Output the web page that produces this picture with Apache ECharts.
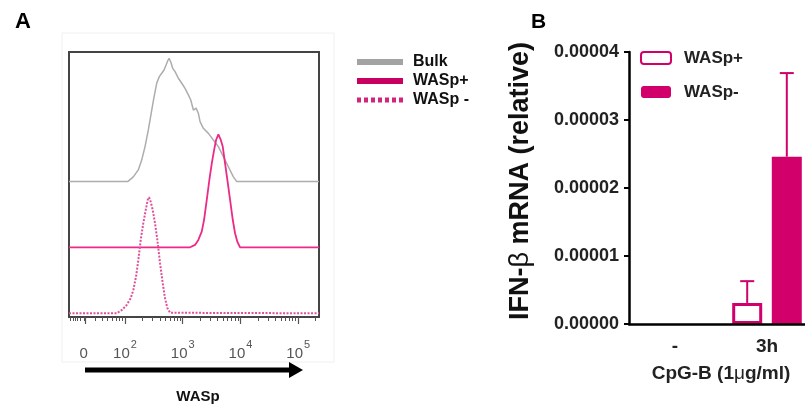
<!DOCTYPE html>
<html><head><meta charset="utf-8">
<script src="https://cdn.jsdelivr.net/npm/echarts@6/dist/echarts.min.js"></script>
<style>html,body{margin:0;padding:0;background:#fff}#c{width:805px;height:407px}</style>
</head><body><div id="c"></div>
<script>
// ---------- Panel A: flow histograms (x = decade position, y = relative height incl. stacking offset)
const bulkDecade = [1.03, 2.047, 2.144, 2.230, 2.289, 2.347, 2.404, 2.463, 2.503, 2.549, 2.594, 2.636, 2.676, 2.711, 2.740, 2.763, 2.792, 2.827, 2.867, 2.924, 2.983, 3.040, 3.097, 3.139, 3.184, 3.231, 3.270, 3.300, 3.357, 3.444, 3.530, 3.617, 3.704, 3.790, 3.877, 3.936, 5.36];
const bulkHeight = [51.1, 51.1, 52.9, 55.5, 59.2, 64.3, 70.6, 78.1, 83.1, 88.2, 90.7, 92.0, 93.2, 95.1, 96.7, 97.6, 96.3, 93.8, 92.6, 90.1, 88.2, 86.3, 83.8, 81.9, 78.1, 78.8, 76.9, 73.7, 71.2, 69.3, 66.8, 64.3, 60.5, 56.7, 52.9, 51.1, 51.1];
const posDecade = [1.03, 3.127, 3.213, 3.270, 3.329, 3.369, 3.416, 3.461, 3.503, 3.543, 3.577, 3.617, 3.659, 3.693, 3.733, 3.773, 3.820, 3.867, 3.906, 3.946, 3.993, 5.36];
const posHeight = [26.3, 26.3, 27.2, 29.1, 32.2, 36.6, 44.2, 51.7, 58.0, 63.0, 66.8, 68.9, 66.8, 64.3, 58.0, 51.7, 44.2, 36.6, 31.6, 28.4, 26.3, 26.3];
const negDecade = [1.03, 1.856, 1.943, 2.029, 2.099, 2.144, 2.191, 2.231, 2.272, 2.317, 2.359, 2.393, 2.416, 2.445, 2.480, 2.520, 2.560, 2.607, 2.653, 2.693, 2.733, 2.780, 2.809, 5.36];
const negHeight = [1.4, 1.4, 2.6, 4.5, 7.1, 10.2, 15.2, 21.5, 29.1, 35.4, 40.4, 44.2, 45.2, 43.5, 40.4, 35.4, 29.1, 20.3, 12.8, 7.1, 3.4, 1.6, 1.4, 1.4];
const seriesNamesA = ['Bulk', 'WASp+', 'WASp -'];
const tickLabelPosA = [1.32, 2, 3, 4, 5];
const tickLabelsA = ['0', '10^2', '10^3', '10^4', '10^5'];
const minorDecadesA = [1, 2, 3, 4, 5];
const minorMultA = [2, 3, 4, 5, 6, 7, 8, 9];
const linearRegionTicksA = [1.06, 1.1, 1.14, 1.18, 1.22];

// ---------- Panel B: IFN-beta mRNA
const categoriesB = ['-', '3h'];
const seriesNamesB = ['WASp+', 'WASp-'];
const waspPosMean = [0, 0.0000031];
const waspPosErr  = [0, 0.0000032];
const waspNegMean = [0, 0.0000246];
const waspNegErr  = [0, 0.0000123];

const FONT = 'Arial, "Liberation Sans", sans-serif';
const PINK = '#d1006a';
const BAR_W = 30, BAR_GAP = 0.32;

const minorTicks = linearRegionTicksA.slice();
minorDecadesA.forEach(d => minorMultA.forEach(m => {
  const v = d + Math.log10(m);
  if (v < 5.36) minorTicks.push(v);
}));

function pairs(xs, ys) { return xs.map((x, i) => [x, ys[i]]); }
function fmtA(v) {
  let idx = tickLabelPosA.findIndex(p => Math.abs(p - v) < 1e-6);
  if (idx < 0) return '';
  const t = tickLabelsA[idx];
  if (t.indexOf('^') < 0) return '{b|' + t + '}{s| }';
  const [base, sup] = t.split('^');
  return '{b|' + base + '}{s|' + sup + '}';
}
function errRender(sign) {
  return function (params, api) {
    const idx = api.value(0), v = api.value(1), e = api.value(2);
    if (!e) return null;
    const b = api.coord([idx, v]);
    const t = api.coord([idx, v + e]);
    const x = b[0] + sign * (BAR_W + BAR_W * BAR_GAP) / 2;
    return { type: 'group', children: [
      { type: 'line', shape: { x1: x, y1: b[1], x2: x, y2: t[1] }, style: { stroke: PINK, lineWidth: 2 } },
      { type: 'line', shape: { x1: x - 7, y1: t[1], x2: x + 7, y2: t[1] }, style: { stroke: PINK, lineWidth: 2 } }
    ] };
  };
}
function barData(vals) {
  return vals.map(v => v === 0 ? { value: 0, itemStyle: { borderWidth: 0 } } : v);
}

const chart = echarts.init(document.getElementById('c'), null, { renderer: 'canvas' });
chart.setOption({
  animation: false,
  textStyle: { fontFamily: FONT },
  title: [
    { text: 'A', left: 10, top: 6, textStyle: { fontSize: 22, fontWeight: 'bold', color: '#000', fontFamily: FONT } },
    { text: 'B', left: 526, top: 7, textStyle: { fontSize: 21, fontWeight: 'bold', color: '#000', fontFamily: FONT } }
  ],
  graphic: [
    { type: 'rect', shape: { x: 62, y: 33, width: 272, height: 329 }, style: { fill: 'none', stroke: '#f0f0f0', lineWidth: 1 }, z: -1 },
    { type: 'line', shape: { x1: 85, y1: 370, x2: 292, y2: 370 }, style: { stroke: '#000', lineWidth: 5 } },
    { type: 'polygon', shape: { points: [[289, 362], [303, 370], [289, 378]] }, style: { fill: '#000' } },
    { type: 'text', x: 198, y: 397, style: { text: 'WASp', align: 'center', verticalAlign: 'middle', font: 'bold 15px ' + FONT, fill: '#111' } }
  ],
  legend: [
    {
      orient: 'vertical', left: 349, top: 48, itemWidth: 46, itemHeight: 14, itemGap: 1,
      formatter: n => n.replace(' (A)', ''),
      textStyle: { fontSize: 16, fontWeight: 'bold', color: '#111', lineHeight: 18, padding: [0, 0, 0, 5], fontFamily: FONT },
      data: [
        { name: seriesNamesA[0] + ' (A)', itemStyle: { opacity: 0 }, lineStyle: { width: 6, color: '#a3a3a3' } },
        { name: seriesNamesA[1] + ' (A)', itemStyle: { opacity: 0 }, lineStyle: { width: 6, color: '#c8005f' } },
        { name: seriesNamesA[2] + ' (A)', itemStyle: { opacity: 0 }, lineStyle: { width: 5, color: '#d4247a', type: [4, 3] } }
      ]
    },
    {
      orient: 'vertical', left: 635, top: 43, itemWidth: 30, itemHeight: 12, itemGap: 14,
      textStyle: { fontSize: 17, fontWeight: 'bold', color: '#222', lineHeight: 20, padding: [0, 0, 0, 8], fontFamily: FONT },
      data: seriesNamesB
    }
  ],
  grid: [
    { left: 69, top: 52, width: 250, height: 265, show: true, borderColor: '#444', borderWidth: 2, backgroundColor: 'transparent', outerBoundsMode: 'none' },
    { left: 629, top: 52, width: 184, height: 272, outerBoundsMode: 'none' }
  ],
  xAxis: [
    {
      gridIndex: 0, type: 'value', position: 'bottom', min: 1.03, max: 5.36,
      axisLine: { show: false }, splitLine: { show: false },
      axisTick: { show: true, inside: false, length: 7, customValues: tickLabelPosA, lineStyle: { color: '#555', width: 1.2 } },
      axisLabel: {
        customValues: tickLabelPosA, margin: 22, formatter: fmtA,
        rich: {
          b: { fontSize: 15, color: '#555', fontFamily: FONT },
          s: { fontSize: 11, color: '#555', fontFamily: FONT, padding: [0, 0, 18, 1] }
        }
      }
    },
    {
      gridIndex: 0, type: 'value', position: 'bottom', min: 1.03, max: 5.36,
      axisLine: { show: false }, splitLine: { show: false }, axisLabel: { show: false },
      axisTick: { show: true, inside: false, length: 4, customValues: minorTicks, lineStyle: { color: '#555', width: 1 } }
    },
    {
      gridIndex: 1, type: 'category', data: categoriesB,
      axisLine: { lineStyle: { color: '#000', width: 2.5 } },
      axisTick: { alignWithLabel: true, length: 7, lineStyle: { color: '#000', width: 2 } },
      axisLabel: { fontSize: 19, fontWeight: 'bold', color: '#222', margin: 13, fontFamily: FONT },
      name: 'CpG-B (1{m|μ}g/ml)', nameLocation: 'middle', nameGap: 40,
      nameTextStyle: {
        fontSize: 19, fontWeight: 'bold', color: '#222', fontFamily: FONT,
        rich: { m: { fontSize: 19, fontWeight: 'normal', color: '#222', fontFamily: FONT } }
      },
      z: 5
    }
  ],
  yAxis: [
    { gridIndex: 0, type: 'value', min: 0, max: 100, show: false },
    {
      gridIndex: 1, type: 'value', min: 0, max: 0.00004, interval: 0.00001,
      splitLine: { show: false },
      axisLine: { show: true, lineStyle: { color: '#000', width: 2.5 } },
      axisTick: { show: true, length: 5, lineStyle: { color: '#000', width: 2 } },
      axisLabel: { fontSize: 18, fontWeight: 'bold', color: '#222', margin: 10, formatter: v => v.toFixed(5), fontFamily: FONT },
      name: 'IFN-{g|β} mRNA (relative)', nameLocation: 'middle', nameGap: 95,
      nameTextStyle: {
        fontSize: 27, fontWeight: 'bold', color: '#111', fontFamily: FONT, padding: [0, 0, 0, 14],
        rich: { g: { fontSize: 27, fontWeight: 'normal', color: '#111', fontFamily: FONT } }
      },
      z: 5
    }
  ],
  series: [
    { name: seriesNamesA[0] + ' (A)', type: 'line', xAxisIndex: 0, yAxisIndex: 0, symbol: 'none', data: pairs(bulkDecade, bulkHeight),
      lineStyle: { color: '#adadad', width: 1.5 }, itemStyle: { color: '#adadad' } },
    { name: seriesNamesA[1] + ' (A)', type: 'line', xAxisIndex: 0, yAxisIndex: 0, symbol: 'none', data: pairs(posDecade, posHeight),
      lineStyle: { color: '#ec2a87', width: 1.8 }, itemStyle: { color: '#ec2a87' } },
    { name: seriesNamesA[2] + ' (A)', type: 'line', xAxisIndex: 0, yAxisIndex: 0, symbol: 'none', data: pairs(negDecade, negHeight),
      lineStyle: { color: '#e0509a', width: 2, type: [2, 1.5] }, itemStyle: { color: '#e0509a' } },
    { name: seriesNamesB[0], type: 'bar', xAxisIndex: 2, yAxisIndex: 1, data: barData(waspPosMean), barWidth: BAR_W, barGap: (BAR_GAP * 100) + '%',
      itemStyle: { color: '#fff', borderColor: PINK, borderWidth: 3 }, z: 1 },
    { name: seriesNamesB[1], type: 'bar', xAxisIndex: 2, yAxisIndex: 1, data: barData(waspNegMean), barWidth: BAR_W,
      itemStyle: { color: PINK, borderColor: PINK, borderWidth: 0 }, z: 1 },
    { type: 'custom', xAxisIndex: 2, yAxisIndex: 1, renderItem: errRender(-1), encode: { x: 0, y: 1 },
      data: categoriesB.map((c, i) => [i, waspPosMean[i], waspPosErr[i]]), z: 3 },
    { type: 'custom', xAxisIndex: 2, yAxisIndex: 1, renderItem: errRender(1), encode: { x: 0, y: 1 },
      data: categoriesB.map((c, i) => [i, waspNegMean[i], waspNegErr[i]]), z: 3 }
  ]
});
</script></body></html>
